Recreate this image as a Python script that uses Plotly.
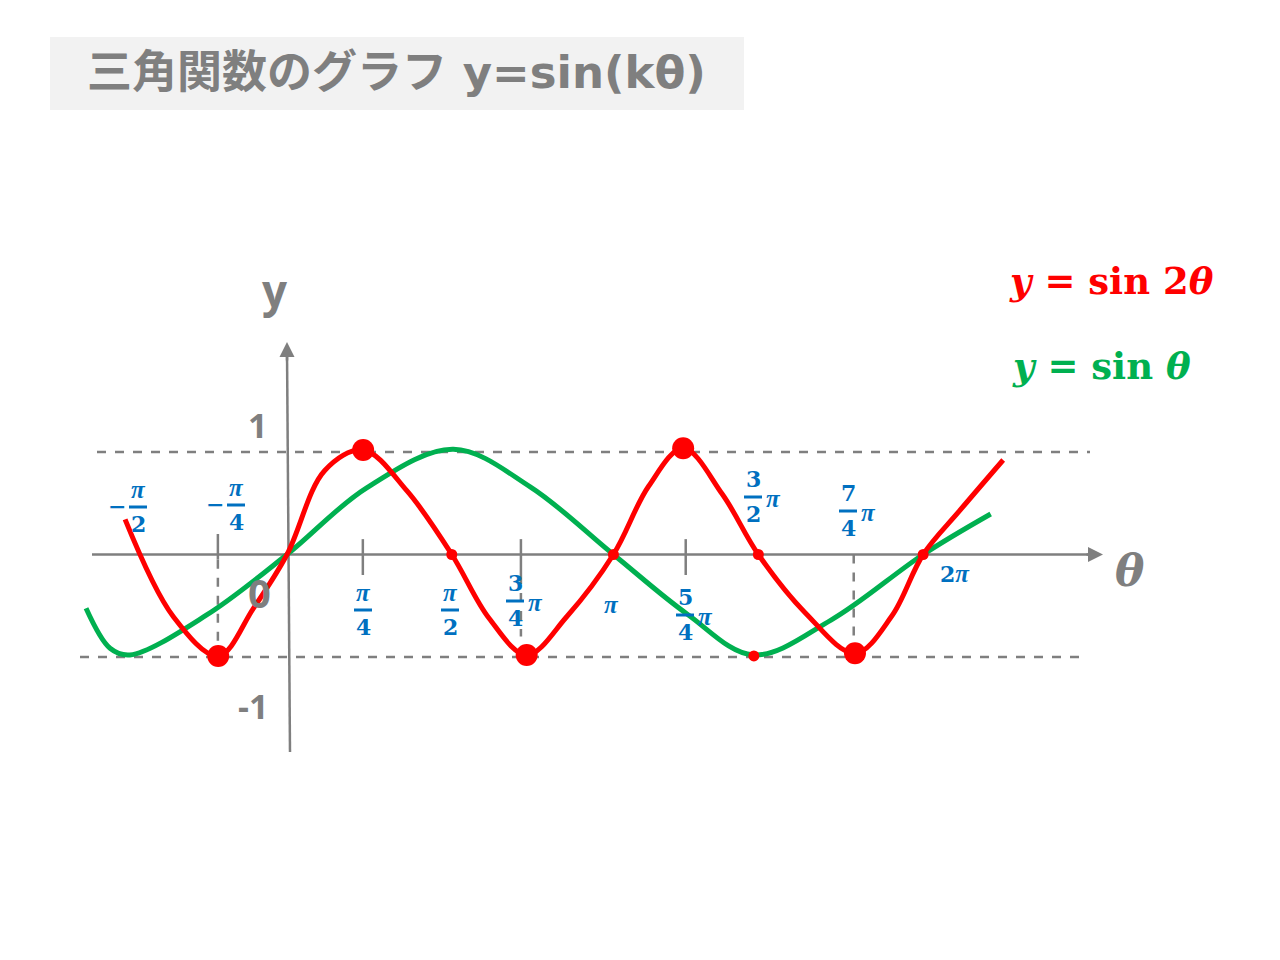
import plotly.graph_objects as go

# values; theta is in units of pi
red_theta = [-0.506, -0.355, -0.215, -0.105, 0.0, 0.118, 0.238, 0.375, 0.515, 0.632,
             0.749, 0.874, 1.020, 1.130, 1.238, 1.360, 1.473, 1.620, 1.775, 1.890,
             1.988, 2.100, 2.238]
red_y = [0.343, -0.607, -0.990, -0.525, 0.0, 0.820, 1.020, 0.620, 0.0, -0.625,
         -0.980, -0.607, 0.0, 0.666, 1.036, 0.590, 0.0, -0.570, -0.964, -0.600,
         0.0, 0.420, 0.922]

green_theta = [-0.628, -0.553, -0.491, -0.251, 0.0, 0.249, 0.520, 0.760, 1.020, 1.250,
               1.457, 1.700, 1.988, 2.199]
green_y = [-0.525, -0.915, -0.980, -0.590, 0.0, 0.650, 1.026, 0.660, 0.0, -0.580,
           -0.980, -0.640, 0.0, 0.395]

# big dots on sin 2θ, small dots where the curves cross
peak_theta = [-0.215, 0.238, 0.749, 1.238, 1.775]
peak_y = [-0.990, 1.020, -0.980, 1.036, -0.964]
dot_theta = [0.515, 1.020, 1.473, 1.988, 1.459]
dot_y = [0.0, 0.0, 0.0, 0.0, -0.99]

tick_theta = [0.237, 0.731, 1.246]
guide_theta = [-0.216, 1.771]
guide_y = [-0.99, -0.964]

GRAY = "#7F7F7F"
BLUE = "#0070C0"
RED = "#FF0000"
GREEN = "#00B050"
MATH = "DejaVu Serif"

W, H, OFF = 1264, 944, 8   # page puts the plot 8px in from the corner


def P(px, py):
    # pixel position on the slide -> data coordinates
    return (px - 287) / 320, (554.5 - py) / 102.5


fig = go.Figure()

fig.add_trace(go.Scatter(x=green_theta, y=green_y, mode="lines",
                         line=dict(color=GREEN, width=5, shape="spline", smoothing=1.0)))
fig.add_trace(go.Scatter(x=red_theta, y=red_y, mode="lines",
                         line=dict(color=RED, width=5, shape="spline", smoothing=1.0)))
fig.add_trace(go.Scatter(x=dot_theta, y=dot_y, mode="markers",
                         marker=dict(color=RED, size=11)))
fig.add_trace(go.Scatter(x=peak_theta, y=peak_y, mode="markers",
                         marker=dict(color=RED, size=22)))

shapes = []
# dashed lines at y = 1 and y = -1
shapes.append(dict(type="line", x0=P(97, 0)[0], x1=P(1090, 0)[0], y0=1, y1=1,
                   line=dict(color=GRAY, width=2.5, dash="dash"), layer="below"))
shapes.append(dict(type="line", x0=P(80, 0)[0], x1=P(1080, 0)[0], y0=-1, y1=-1,
                   line=dict(color=GRAY, width=2.5, dash="dash"), layer="below"))
# axes
shapes.append(dict(type="line", x0=P(92, 0)[0], x1=P(1095, 0)[0], y0=0, y1=0,
                   line=dict(color=GRAY, width=2.5), layer="below"))
shapes.append(dict(type="line", x0=P(290, 0)[0], x1=P(287, 0)[0], y0=P(0, 752)[1], y1=P(0, 350)[1],
                   line=dict(color=GRAY, width=2.5), layer="below"))
# ticks
for t in tick_theta:
    shapes.append(dict(type="line", x0=t, x1=t, y0=0.15, y1=-0.2,
                       line=dict(color=GRAY, width=2.5), layer="below"))
# tick + dashed guide at -pi/4 and dashed guide at 7pi/4
shapes.append(dict(type="line", x0=guide_theta[0], x1=guide_theta[0], y0=0.2, y1=-0.05,
                   line=dict(color=GRAY, width=2.5), layer="below"))
shapes.append(dict(type="line", x0=guide_theta[0], x1=guide_theta[0], y0=-0.05, y1=guide_y[0],
                   line=dict(color=GRAY, width=2.5, dash="dash"), layer="below"))
shapes.append(dict(type="line", x0=guide_theta[1], x1=guide_theta[1], y0=0, y1=guide_y[1],
                   line=dict(color=GRAY, width=2.5, dash="dash"), layer="below"))
# dashed continuation under the 3/4 pi tick
shapes.append(dict(type="line", x0=tick_theta[1], x1=tick_theta[1], y0=-0.2, y1=-0.8,
                   line=dict(color=GRAY, width=2.5, dash="dash"), layer="below"))

# title box
shapes.append(dict(type="rect", xref="paper", yref="paper",
                   x0=(50 - OFF) / W, x1=(744 - OFF) / W, y0=1 - (110 - OFF) / H, y1=1 - (37 - OFF) / H,
                   fillcolor="#F2F2F2", line=dict(width=0), layer="below"))

annotations = []


def text(px, py, s, size, color, family=MATH, xanchor="center"):
    x, y = P(px, py)
    annotations.append(dict(x=x, y=y, text=s, showarrow=False, xanchor=xanchor, yanchor="middle",
                            font=dict(size=size, color=color, family=family)))


PI = '<span style="font-family:Liberation Serif;font-size:25px"><i>π</i></span>'


def frac(cx, by, num, den, prefix="", suffix=False):
    text(cx, by - 18, "<b>%s</b>" % num, 22, BLUE)
    text(cx, by + 17, "<b>%s</b>" % den, 22, BLUE)
    x0, y0 = P(cx - 9, by)
    x1, _ = P(cx + 9, by)
    shapes.append(dict(type="line", x0=x0, x1=x1, y0=y0, y1=y0, line=dict(color=BLUE, width=3)))
    if prefix:
        text(cx - 21, by - 1, "<b>%s</b>" % prefix, 22, BLUE)
    if suffix:
        text(cx + 20, by + 1, "<b>%s</b>" % PI, 22, BLUE)


frac(138, 507, PI, "2", prefix="−")
frac(236, 505, PI, "4", prefix="−")
frac(363, 610, PI, "4")
frac(450, 610, PI, "2")
frac(515, 601, "3", "4", suffix=True)
frac(685, 615, "5", "4", suffix=True)
frac(753, 497, "3", "2", suffix=True)
frac(848, 511, "7", "4", suffix=True)
text(611, 604, "<b>%s</b>" % PI, 22, BLUE)
text(955, 573, "<b>2%s</b>" % PI, 22, BLUE)

# axis labels
text(275, 290, "<b>y</b>", 44, GRAY, family="Open Sans")
text(1130, 570, "<b><i>θ</i></b>", 44, GRAY)
text(257, 425, "<b>1</b>", 34, GRAY, family="Open Sans")
text(259, 592, "<b>0</b>", 40, GRAY, family="Open Sans")
text(253, 706, "<b>-1</b>", 34, GRAY, family="Open Sans")

# arrow heads
hx, hy = P(1103, 554.5)
tx, ty = P(1085, 554.5)
annotations.append(dict(x=hx, y=hy, ax=tx, ay=ty, axref="x", ayref="y", text="", showarrow=True,
                        arrowhead=2, arrowsize=1.2, arrowwidth=2.5, arrowcolor=GRAY))
hx, hy = P(287, 342)
tx, ty = P(287, 362)
annotations.append(dict(x=hx, y=hy, ax=tx, ay=ty, axref="x", ayref="y", text="", showarrow=True,
                        arrowhead=2, arrowsize=1.2, arrowwidth=2.5, arrowcolor=GRAY))

# legend text
text(1111, 281, "<b><i>y</i> = sin 2<i>θ</i></b>", 37, RED)
text(1101, 366, "<b><i>y</i> = sin <i>θ</i></b>", 37, GREEN)

# title
annotations.append(dict(x=(85 - OFF) / W, y=1 - (72 - OFF) / H, xref="paper", yref="paper",
                        xanchor="left", yanchor="middle", showarrow=False,
                        text="<b>三角関数のグラフ y=sin(kθ)</b>",
                        font=dict(size=45, color=GRAY, family="DejaVu Sans, Noto Sans CJK JP")))

fig.update_layout(
    width=W, height=H, margin=dict(l=0, r=0, t=0, b=0),
    paper_bgcolor="white", plot_bgcolor="white", showlegend=False,
    xaxis=dict(range=[P(OFF, 0)[0], P(OFF + W, 0)[0]], visible=False, fixedrange=True),
    yaxis=dict(range=[P(0, OFF + H)[1], P(0, OFF)[1]], visible=False, fixedrange=True),
    shapes=shapes, annotations=annotations,
)

fig.write_html("out.html")
